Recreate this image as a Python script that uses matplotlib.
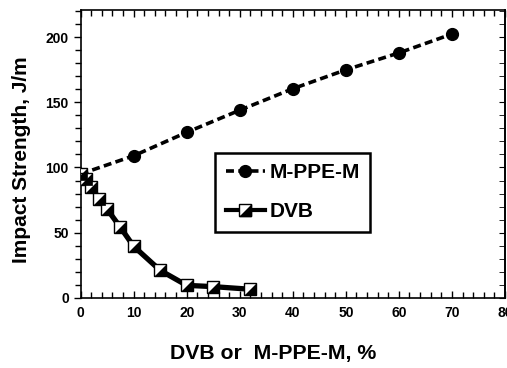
import matplotlib
matplotlib.use("Agg")
import matplotlib.pyplot as plt
from matplotlib.lines import Line2D
from matplotlib.legend_handler import HandlerTuple
from matplotlib.ticker import MultipleLocator

plt.rcParams['font.family'] = ['Liberation Sans', 'DejaVu Sans']
plt.rcParams['font.weight'] = 'bold'

mppe_x = [0, 10, 20, 30, 40, 50, 60, 70]
mppe_y = [95, 109, 127, 144, 160.5, 175, 188, 202.5]

dvb_x = [0, 1, 2, 3.5, 5, 7.5, 10, 15, 20, 25, 32]
dvb_y = [95, 91, 85, 76, 68, 54, 39.5, 21, 9.5, 8.5, 6.5]

W, H = 507, 368
fig = plt.figure(figsize=(W / 100, H / 100), dpi=100)
ax = fig.add_axes([0.159, 0.191, 0.837, 0.782])

ax.plot(mppe_x, mppe_y, ls=(0, (2.2, 1.2)), lw=2.6, color='black',
        marker='o', ms=8.5, mfc='black', mec='black', zorder=3)

tri = [(-1, -1), (1, -1), (1, 1)]
ax.plot(dvb_x, dvb_y, ls='-', lw=3.8, color='black', zorder=4)
ax.plot(dvb_x, dvb_y, ls='none', marker='s', ms=8, mfc='white', mec='black', mew=1.0, zorder=5)
ax.plot(dvb_x, dvb_y, ls='none', marker=tri, ms=8, mfc='black', mec='black', mew=0.5, zorder=6)

ax.set_xlim(0, 80)
ax.set_ylim(0, 221)
ax.xaxis.set_major_locator(MultipleLocator(10))
ax.xaxis.set_minor_locator(MultipleLocator(2))
ax.yaxis.set_major_locator(MultipleLocator(50))
ax.yaxis.set_minor_locator(MultipleLocator(10))

ax.tick_params(axis='x', which='both', direction='in', top=True, bottom=True, labelsize=10, pad=6)
ax.tick_params(axis='x', which='major', length=5, width=1)
ax.tick_params(axis='x', which='minor', length=4, width=1)
ax.tick_params(axis='y', which='both', direction='out', left=True, right=False, labelsize=10)
ax.tick_params(axis='y', which='major', length=5, width=1)
ax.tick_params(axis='y', which='minor', length=4, width=1)
sec = ax.secondary_yaxis('right')
sec.yaxis.set_major_locator(MultipleLocator(50))
sec.yaxis.set_minor_locator(MultipleLocator(10))
sec.tick_params(which='both', direction='in', labelright=False, length=4)
sec.spines['right'].set_linewidth(1.2)

for lab in ax.get_xticklabels() + ax.get_yticklabels():
    lab.set_fontweight('bold')
for s in ax.spines.values():
    s.set_linewidth(1.2)

fig.text(273 / W, 1 - 353 / H, 'DVB or  M-PPE-M, %', fontsize=15.3, fontweight='bold',
         ha='center', va='center')
fig.text(22 / W, 1 - 160 / H, 'Impact Strength, J/m', fontsize=15, fontweight='bold',
         ha='center', va='center', rotation=90)

h1 = Line2D([], [], ls=(0, (2.2, 1.2)), lw=2.6, color='black', marker='o', ms=8.5)
h2a = Line2D([], [], ls='-', lw=3.0, color='black', marker='s', ms=8, mfc='white', mec='black')
h2b = Line2D([], [], ls='none', marker=tri, ms=8, mfc='black', mec='black')
leg = ax.legend([h1, (h2a, h2b)], ['M-PPE-M', 'DVB'],
                handler_map={tuple: HandlerTuple(ndivide=1, pad=0)},
                loc='upper left', bbox_to_anchor=(0.317, 0.503), borderaxespad=0,
                prop={'weight': 'bold', 'size': 15}, fancybox=False,
                edgecolor='black', framealpha=1, handlelength=1.9,
                handletextpad=0.2, labelspacing=0.95, borderpad=0.5)
leg.get_frame().set_linewidth(1.8)

fig.savefig('out.png', dpi=100)
